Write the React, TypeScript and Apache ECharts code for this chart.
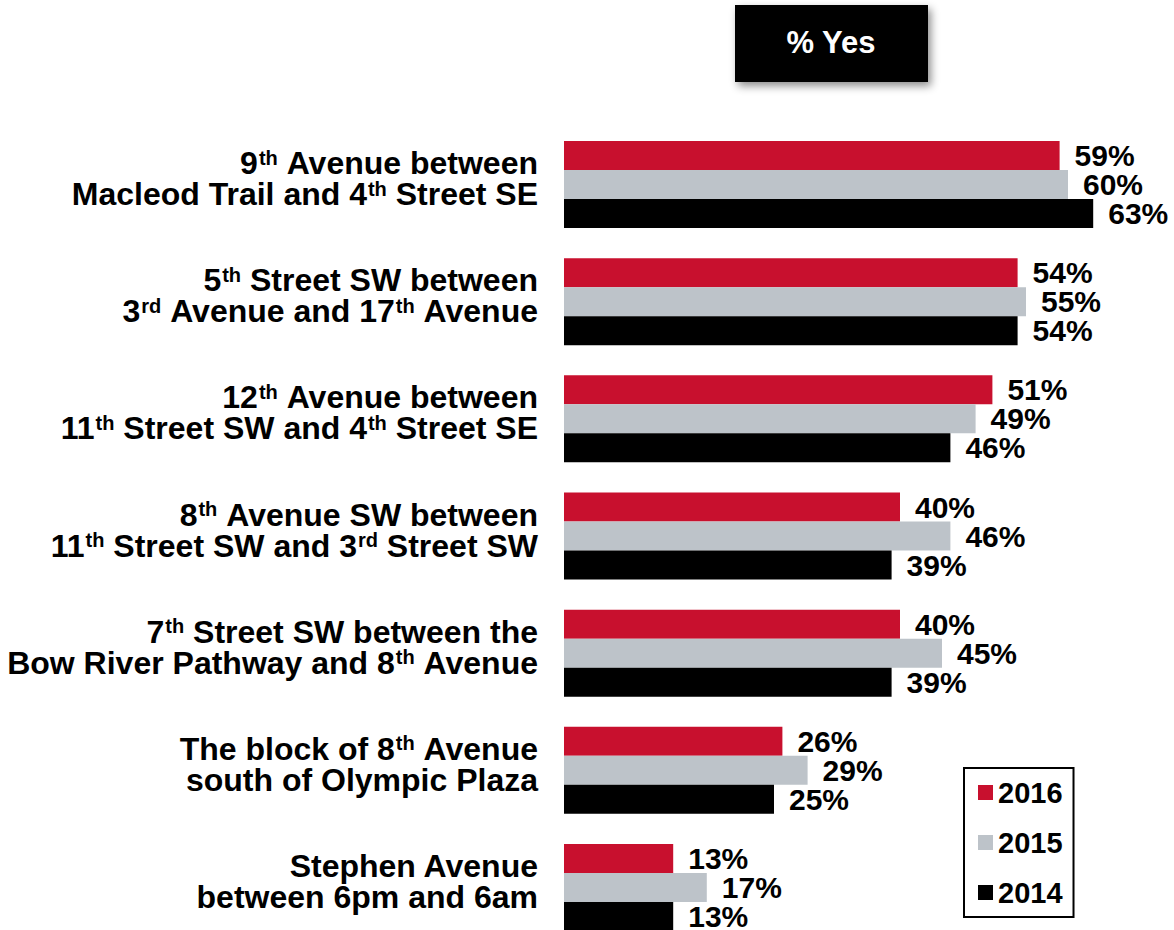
import React, { useEffect, useRef } from "react";
import * as echarts from "echarts";

const categories: string[] = [
  "9th Avenue between\nMacleod Trail and 4th Street SE",
  "5th Street SW between\n3rd Avenue and 17th Avenue",
  "12th Avenue between\n11th Street SW and 4th Street SE",
  "8th Avenue SW between\n11th Street SW and 3rd Street SW",
  "7th Street SW between the\nBow River Pathway and 8th Avenue",
  "The block of 8th Avenue\nsouth of Olympic Plaza",
  "Stephen Avenue\nbetween 6pm and 6am",
];

const seriesNames: string[] = ["2016", "2015", "2014"];
const values2016: number[] = [59, 54, 51, 40, 40, 26, 13];
const values2015: number[] = [60, 55, 49, 46, 45, 29, 17];
const values2014: number[] = [63, 54, 46, 39, 39, 25, 13];
const headerText = "% Yes";

const COLORS = ["#C8102E", "#BDC3C9", "#000000"];
const FONT = "'Liberation Sans', Arial, Helvetica, sans-serif";

export default function App() {
  const ref = useRef<HTMLDivElement>(null);

  useEffect(() => {
    if (!ref.current) return;
    const chart = echarts.init(ref.current, null, { renderer: "svg" });
    const seriesData = [values2016, values2015, values2014];

    const option: any = {
      animation: false,
      backgroundColor: "#ffffff",
      textStyle: { fontFamily: FONT },
      grid: { left: 564, right: 22, top: 126, bottom: 14, containLabel: false },
      xAxis: {
        type: "value",
        min: 0,
        max: 70,
        show: false,
        splitLine: { show: false },
      },
      yAxis: {
        type: "category",
        inverse: true,
        data: categories,
        axisLine: { show: false },
        axisTick: { show: false },
        axisLabel: {
          margin: 26,
          fontSize: 32,
          fontWeight: "bold",
          color: "#000",
          fontFamily: FONT,
          lineHeight: 31,
          align: "right",
          padding: [0, 0, 12, 0],
          formatter: (v: string) => v.replace(/(\d)(th|rd|st|nd)\b/g, "$1{sup|$2}"),
          rich: {
            sup: {
              fontSize: 20,
              fontWeight: "bold",
              fontFamily: FONT,
              color: "#000",
              verticalAlign: "top",
              lineHeight: 31,
              padding: [0, 0, 0, 1],
            },
          },
        },
      },
      legend: {
        orient: "vertical",
        left: 964,
        top: 768,
        padding: [10, 11, 10, 14],
        itemGap: 21,
        itemWidth: 15,
        itemHeight: 15,
        icon: "rect",
        borderColor: "#000",
        borderWidth: 2,
        textStyle: {
          fontSize: 29,
          fontWeight: "bold",
          color: "#000",
          fontFamily: FONT,
          lineHeight: 28,
          padding: [0, 0, 0, 0],
        },
        data: seriesNames,
      },
      graphic: [
        {
          type: "rect",
          left: 735,
          top: 5,
          shape: { width: 193, height: 77 },
          style: {
            fill: "#050505",
            shadowBlur: 8,
            shadowOffsetX: 3,
            shadowOffsetY: 4,
            shadowColor: "rgba(0,0,0,0.45)",
          },
        },
        {
          type: "text",
          x: 831,
          y: 42,
          style: {
            text: headerText,
            fill: "#ffffff",
            fontSize: 31,
            fontWeight: "bold",
            fontFamily: FONT,
            align: "center",
            verticalAlign: "middle",
          },
        },
      ],
      series: seriesNames.map((name, i) => ({
        name,
        type: "bar",
        data: seriesData[i],
        barWidth: 29,
        barGap: "0%",
        itemStyle: { color: COLORS[i] },
        label: {
          show: true,
          position: "right",
          distance: 15,
          formatter: "{c}%",
          fontSize: 30,
          fontWeight: "bold",
          color: "#000",
          fontFamily: FONT,
        },
      })),
    };

    chart.setOption(option);
    return () => chart.dispose();
  }, []);

  return (
    <div
      style={{
        position: "absolute",
        left: 0,
        top: 0,
        width: 1174,
        height: 930,
        overflow: "hidden",
        background: "#fff",
      }}
    >
      <div ref={ref} style={{ width: 1174, height: 960 }} />
    </div>
  );
}
